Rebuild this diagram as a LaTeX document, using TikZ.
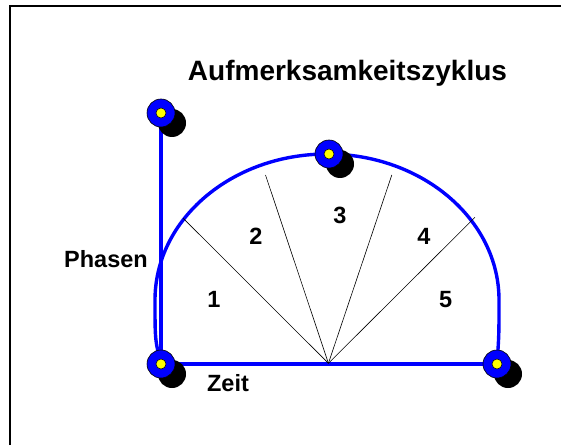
\documentclass[tikz,border=0pt]{standalone}
\usepackage{fontspec}
\setmainfont{Liberation Sans}
\usepackage{xcolor}
\usetikzlibrary{shadows,backgrounds}
\definecolor{arcblue}{RGB}{0,0,255}
\definecolor{dotyellow}{RGB}{255,255,0}

\begin{document}
\begin{tikzpicture}[x=1pt,y=1pt,font=\bfseries,
  dot/.style={circle,draw=black,line width=0.6pt,fill=arcblue,minimum size=28pt,
              inner sep=0pt,
              drop shadow={shadow xshift=11pt,shadow yshift=-10pt,opacity=1,fill=black},
              path picture={\filldraw[fill=dotyellow,draw=black,line width=0.5pt]
                (path picture bounding box.center) circle (5pt);}},
  bluearc/.style={draw=arcblue,line width=3.4pt},
  ray/.style={draw=black,line width=0.6pt},
  lbl/.style={font=\fontsize{23.5}{26}\selectfont\bfseries}]
\useasboundingbox (0,0) rectangle (561,445);
\draw[line width=2pt] (10,0) |- (561,439);

\node[font=\fontsize{28}{30}\selectfont\bfseries,anchor=base] (title) at (347.5,364) {Aufmerksamkeitszyklus};

\node[dot] (tl) at (161,332) {};
\node[dot] (bl) at (161,81) {};
\node[dot] (br) at (497,81) {};
\node[dot] (tm) at (329,291) {};

\coordinate (hub) at (328.4,81.7);
\coordinate (r1) at (183.2,226.7);
\coordinate (r2) at (265.5,270);
\coordinate (r3) at (391.8,270);
\coordinate (r4) at (475,227.7);

\begin{scope}[on background layer]
\draw[bluearc] (tl) -- (bl);
\draw[bluearc] (bl) -- (br);
\draw[bluearc] (bl.center) .. controls (155,105) .. (155,145)
  arc (180:0:172 and 146) .. controls (499,110) .. (br.center);
\foreach \r in {r1,r2,r3,r4}
  \draw[ray] (hub) -- (\r);
\end{scope}

\node[lbl,anchor=base] (phasen) at (106,177.7) {Phasen};
\node[lbl,anchor=base] (zeit) at (228,53.3) {Zeit};
\node[lbl] (p1) at (214,145.7) {1};
\node[lbl] (p2) at (256,209) {2};
\node[lbl] (p3) at (340,230) {3};
\node[lbl] (p4) at (424,208.3) {4};
\node[lbl] (p5) at (445.7,145.7) {5};
\end{tikzpicture}
\end{document}
